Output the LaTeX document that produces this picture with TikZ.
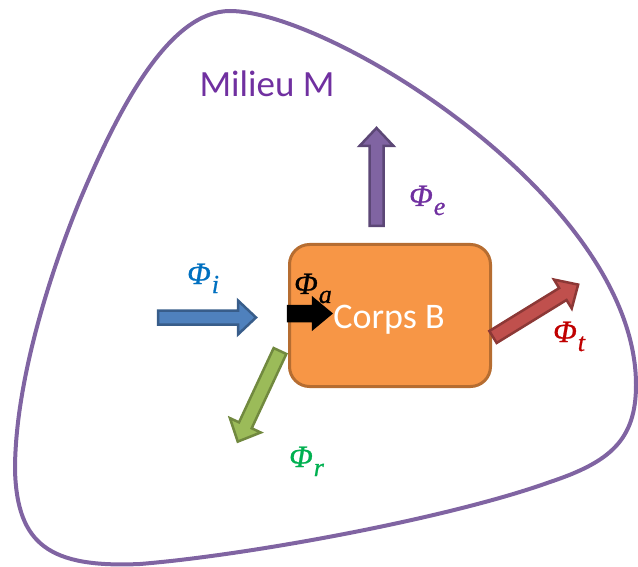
\documentclass[tikz,border=0pt]{standalone}
\usepackage{fontspec}
\setmainfont{Carlito}
\newfontfamily\phifont[ItalicFont={Liberation Serif Italic},ItalicFeatures={FakeBold=0.8}]{Liberation Serif}
\definecolor{outl}{HTML}{8064A2}
\definecolor{milieu}{HTML}{7030A0}
\definecolor{boxfill}{HTML}{F79646}
\definecolor{boxdraw}{HTML}{B66D31}
\definecolor{bluef}{HTML}{4F81BD}
\definecolor{blued}{HTML}{385D8A}
\definecolor{purpf}{HTML}{8064A2}
\definecolor{purpd}{HTML}{5C4776}
\definecolor{redf}{HTML}{C0504D}
\definecolor{redd}{HTML}{8C3836}
\definecolor{greenf}{HTML}{9BBB59}
\definecolor{greend}{HTML}{71893F}
\definecolor{lblue}{HTML}{0070C0}
\definecolor{lred}{HTML}{C00000}
\definecolor{lgreen}{HTML}{00B050}
\newcommand\blockarr[8]{% tail x, tail y, angle, length, fill, draw, shaft half, head half
 \begin{scope}[shift={(#1,#2)},rotate=#3]
 \filldraw[fill=#5,draw=#6,line width=2.5pt,line join=miter]
 (0,-#7) -- ({#4-18},-#7) -- ({#4-18},-#8) -- (#4,0) -- ({#4-18},#8) -- ({#4-18},#7) -- (0,#7) -- cycle;
 \end{scope}}
\newcommand\flux[1]{{\phifont\itshape\fontsize{31}{36}\selectfont Φ\kern1pt\raisebox{-9pt}{\fontsize{26}{30}\selectfont #1}}}
\tikzset{
 phil/.style={inner sep=0pt,anchor=base west},
}
\begin{document}
\begin{tikzpicture}[x=1pt,y=-1pt]
\useasboundingbox (0,0) rectangle (638,567);
% outer environment
\draw[outl,line width=4pt] (230,11) .. controls (330,11) and (636,200) .. (636,385)
 .. controls (636,440) and (610,462) .. (550,482)
 .. controls (450,518) and (250,555) .. (140,564)
 .. controls (50,568) and (17,545) .. (15,470)
 .. controls (15,380) and (52,268) .. (80,200)
 .. controls (120,105) and (170,11) .. cycle;
\node[text=milieu,font=\fontsize{37}{44}\selectfont,anchor=base] (milieu) at (267,97) {Milieu M};
% body
\draw[fill=boxfill,draw=boxdraw,line width=3pt,rounded corners=20pt] (289.5,244.5) rectangle (490.5,386.5);
\node[text=white,font=\fontsize{36}{43}\selectfont,anchor=base] (corps) at (389,328) {Corps B};
% arrows
\blockarr{158}{317.5}{0}{98}{bluef}{blued}{7}{17}
\blockarr{288}{313.5}{0}{43}{black}{black}{7.5}{15}
\blockarr{376.5}{226}{90}{98}{purpf}{purpd}{7}{17}
\blockarr{493}{337}{31.6}{100}{redf}{redd}{7}{17}
\blockarr{280}{351}{245}{100}{greenf}{greend}{7}{17}
% labels
\node[phil,text=lblue] (phii) at (187,284) {\flux{i}};
\node[phil,text=black] (phia) at (294,294) {\flux{a}};
\node[phil,text=milieu] (phie) at (409,206) {\flux{e}};
\node[phil,text=lred] (phit) at (553,342) {\flux{t}};
\node[phil,text=lgreen] (phir) at (289,467) {\flux{r}};
\end{tikzpicture}
\end{document}
